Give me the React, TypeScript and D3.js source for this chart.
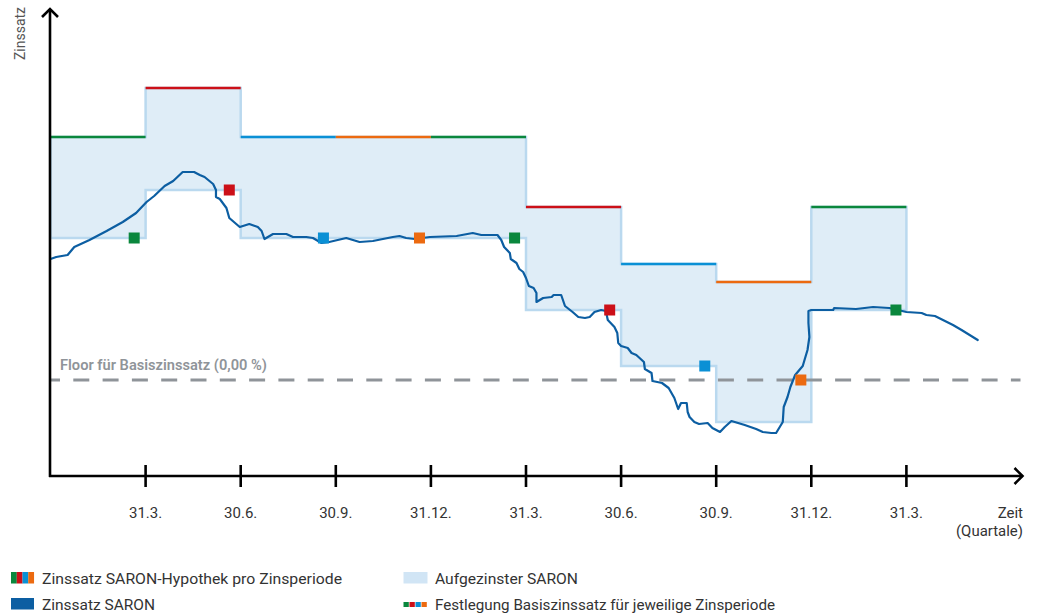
import React from "react";
import * as d3 from "d3";

// ---------- data ----------
const tickQuarters = [1, 2, 3, 4, 5, 6, 7, 8, 9];
const tickLabels = ["31.3.", "30.6.", "30.9.", "31.12.", "31.3.", "30.6.", "30.9.", "31.12.", "31.3."];

const periodStarts = [0, 1, 2, 3, 4, 5, 6, 7, 8];
const periodEnd = 9;
const mortgageRates = [2.43, 2.92, 2.43, 2.43, 2.43, 1.73, 1.16, 0.98, 1.73];
const compoundedSaron = [1.42, 1.9, 1.42, 1.42, 1.42, 0.7, 0.14, -0.42, 0.7];

const fixingDates = [0.88, 1.88, 2.87, 3.88, 4.88, 5.88, 6.88, 7.89, 8.89];
const fixingRates = [1.42, 1.9, 1.42, 1.42, 1.42, 0.7, 0.14, 0.0, 0.7];

const floorRate = 0;

const saronDates = [
  0, 0.06, 0.18, 0.25, 0.41, 0.59, 0.76, 0.9, 1.01, 1.09, 1.2, 1.29, 1.39, 1.51, 1.57, 1.62,
  1.71, 1.74, 1.74, 1.78, 1.85, 1.88, 1.99, 2.09, 2.18, 2.22, 2.25, 2.34, 2.48, 2.55, 2.69, 2.76,
  2.85, 2.93, 3.11, 3.25, 3.39, 3.6, 3.67, 3.74, 3.83, 3.99, 4.27, 4.44, 4.53, 4.7, 4.74, 4.77,
  4.83, 4.84, 4.9, 4.93, 4.97, 5.0, 5.03, 5.08, 5.11, 5.11, 5.18, 5.27, 5.29, 5.37, 5.41, 5.49,
  5.55, 5.62, 5.67, 5.72, 5.79, 5.84, 5.86, 5.93, 5.96, 5.97, 6.0, 6.07, 6.11, 6.16, 6.24, 6.25,
  6.32, 6.33, 6.43, 6.5, 6.56, 6.6, 6.63, 6.69, 6.7, 6.72, 6.77, 6.82, 6.91, 6.96, 7.04, 7.09,
  7.16, 7.3, 7.42, 7.49, 7.58, 7.63, 7.7, 7.71, 7.75, 7.78, 7.83, 7.91, 7.96, 7.98, 7.97, 7.97,
  8.0, 8.23, 8.24, 8.47, 8.65, 8.82, 9.0, 9.16, 9.21, 9.3, 9.49, 9.58, 9.75,
];
const saronValues = [
  1.21, 1.23, 1.25, 1.33, 1.4, 1.49, 1.58, 1.67, 1.78, 1.84, 1.94, 1.99, 2.08, 2.08, 2.05, 2.03,
  1.96, 1.9, 1.83, 1.81, 1.72, 1.62, 1.53, 1.56, 1.53, 1.49, 1.41, 1.46, 1.46, 1.43, 1.43, 1.42,
  1.37, 1.38, 1.42, 1.38, 1.39, 1.43, 1.44, 1.42, 1.41, 1.43, 1.44, 1.47, 1.45, 1.45, 1.4, 1.33,
  1.27, 1.21, 1.17, 1.11, 1.08, 1.02, 0.94, 0.92, 0.87, 0.78, 0.82, 0.83, 0.85, 0.85, 0.74, 0.68,
  0.63, 0.62, 0.63, 0.68, 0.7, 0.69, 0.6, 0.53, 0.47, 0.37, 0.34, 0.32, 0.27, 0.25, 0.18, 0.11,
  0.07, -0.01, -0.03, -0.08, -0.18, -0.29, -0.23, -0.23, -0.32, -0.37, -0.42, -0.44, -0.43, -0.48, -0.52, -0.47,
  -0.41, -0.45, -0.49, -0.52, -0.53, -0.53, -0.42, -0.27, -0.17, -0.07, 0.05, 0.14, 0.3, 0.43, 0.57, 0.69,
  0.7, 0.7, 0.72, 0.71, 0.73, 0.72, 0.68, 0.67, 0.65, 0.64, 0.55, 0.5, 0.4,
];

const legendLabels = [
  "Zinssatz SARON-Hypothek pro Zinsperiode",
  "Zinssatz SARON",
  "Aufgezinster SARON",
  "Festlegung Basiszinssatz für jeweilige Zinsperiode",
];

// ---------- styles ----------
const GREEN = "#0a873d";
const RED = "#cc1018";
const BLUE = "#0a90d5";
const ORANGE = "#ec6a10";
const periodColors = [GREEN, RED, BLUE, ORANGE, GREEN, RED, BLUE, ORANGE, GREEN];
const SARON_COLOR = "#0c5ea2";
const FILL = "#dfedf7";
const FILL_STROKE = "#bad9ef";
const FLOOR_COLOR = "#8f9499";
const TEXT = "#333333";
const FONT = "Roboto, 'Open Sans', sans-serif";

const W = 1039;
const H = 615;

export default function App() {
  const x = d3.scaleLinear().domain([0, 10]).range([50.5, 1001.5]);
  const y = d3.scaleLinear().domain([0, 1]).range([380, 280]);

  const axisX = 50;
  const axisY = 476;
  const axisTop = 9;
  const axisRight = 1022.5;

  const areaData = periodStarts.map((q, i) => ({ q, top: mortgageRates[i], bottom: compoundedSaron[i] }));
  areaData.push({
    q: periodEnd,
    top: mortgageRates[mortgageRates.length - 1],
    bottom: compoundedSaron[compoundedSaron.length - 1],
  });

  const area = d3
    .area<{ q: number; top: number; bottom: number }>()
    .x((d) => x(d.q))
    .y0((d) => y(d.bottom))
    .y1((d) => y(d.top))
    .curve(d3.curveStepAfter);

  const saronPts = saronDates.map((q, i) => [q, saronValues[i]] as [number, number]);
  const saronLine = d3
    .line<[number, number]>()
    .x((d) => x(d[0]))
    .y((d) => y(d[1]));

  const markerSize = 11;
  const stripeColors = [GREEN, RED, BLUE, ORANGE];

  return (
    <svg
      width={W}
      height={H}
      viewBox={`0 0 ${W} ${H}`}
      style={{ position: "absolute", left: 0, top: 0, background: "#fff" }}
      fontFamily={FONT}
    >
      {/* compounded SARON band */}
      <path d={area(areaData) || ""} fill={FILL} stroke={FILL_STROKE} strokeWidth={2.5} />

      {/* floor */}
      <line
        x1={axisX}
        x2={axisRight - 2}
        y1={y(floorRate)}
        y2={y(floorRate)}
        stroke={FLOOR_COLOR}
        strokeWidth={3}
        strokeDasharray="16 13.3"
        strokeDashoffset={6}
      />
      <text
        x={60}
        y={369.5}
        fill={FLOOR_COLOR}
        fontSize={14}
        fontWeight={600}
        textLength={207}
        lengthAdjust="spacingAndGlyphs"
      >
        Floor für Basiszinssatz (0,00 %)
      </text>

      {/* mortgage rate per period */}
      {periodStarts.map((q, i) => (
        <line
          key={"m" + i}
          x1={x(q)}
          x2={x(i + 1 < periodStarts.length ? periodStarts[i + 1] : periodEnd)}
          y1={y(mortgageRates[i])}
          y2={y(mortgageRates[i])}
          stroke={periodColors[i]}
          strokeWidth={2.6}
        />
      ))}

      {/* SARON */}
      <path
        d={saronLine(saronPts) || ""}
        fill="none"
        stroke={SARON_COLOR}
        strokeWidth={2.2}
        strokeLinejoin="round"
        strokeLinecap="round"
      />

      {/* fixing markers */}
      {fixingDates.map((q, i) => (
        <rect
          key={"f" + i}
          x={x(q) - markerSize / 2}
          y={y(fixingRates[i]) - markerSize / 2}
          width={markerSize}
          height={markerSize}
          fill={periodColors[i]}
        />
      ))}

      {/* axes */}
      <line x1={axisX} x2={axisX} y1={axisY + 1} y2={axisTop} stroke="#000" strokeWidth={2.6} />
      <path
        d={`M${axisX - 8},${axisTop + 8} L${axisX},${axisTop} L${axisX + 8},${axisTop + 8}`}
        fill="none"
        stroke="#000"
        strokeWidth={2.6}
      />
      <line x1={axisX - 1} x2={axisRight} y1={axisY} y2={axisY} stroke="#000" strokeWidth={2.6} />
      <path
        d={`M${axisRight - 8},${axisY - 8} L${axisRight},${axisY} L${axisRight - 8},${axisY + 8}`}
        fill="none"
        stroke="#000"
        strokeWidth={2.6}
      />
      {tickQuarters.map((q, i) => (
        <g key={"t" + i}>
          <line x1={x(q)} x2={x(q)} y1={axisY - 11} y2={axisY + 11} stroke="#000" strokeWidth={2.6} />
          <text x={x(q)} y={518} textAnchor="middle" fontSize={15} fill={TEXT}>
            {tickLabels[i]}
          </text>
        </g>
      ))}

      {/* axis titles */}
      <text x={1023} y={518} textAnchor="end" fontSize={15} fill={TEXT}>
        Zeit
      </text>
      <text x={1023} y={536} textAnchor="end" fontSize={15} fill={TEXT} textLength={67} lengthAdjust="spacingAndGlyphs">
        (Quartale)
      </text>
      <text
        transform="translate(25,60) rotate(-90)"
        fontSize={15}
        fill="#555"
        textLength={53}
        lengthAdjust="spacingAndGlyphs"
      >
        Zinssatz
      </text>

      {/* legend */}
      <g>
        {stripeColors.map((c, i) => (
          <rect key={"l1" + i} x={11 + i * 5.75} y={572} width={5.8} height={11.5} fill={c} />
        ))}
        <text x={42} y={583.5} fontSize={15.5} fill={TEXT} textLength={300} lengthAdjust="spacingAndGlyphs">
          {legendLabels[0]}
        </text>
        <rect x={11} y={598} width={23} height={11.5} fill={SARON_COLOR} />
        <text x={42} y={609.5} fontSize={15.5} fill={TEXT} textLength={113} lengthAdjust="spacingAndGlyphs">
          {legendLabels[1]}
        </text>
        <rect x={403.5} y={572} width={24} height={11.5} fill="#d1e5f5" />
        <text x={435} y={583.5} fontSize={15.5} fill={TEXT} textLength={143} lengthAdjust="spacingAndGlyphs">
          {legendLabels[2]}
        </text>
        {stripeColors.map((c, i) => (
          <rect key={"l4" + i} x={403.5 + i * 6} y={602} width={5.3} height={5} fill={c} />
        ))}
        <text x={435} y={609.5} fontSize={15.5} fill={TEXT} textLength={340} lengthAdjust="spacingAndGlyphs">
          {legendLabels[3]}
        </text>
      </g>
    </svg>
  );
}
